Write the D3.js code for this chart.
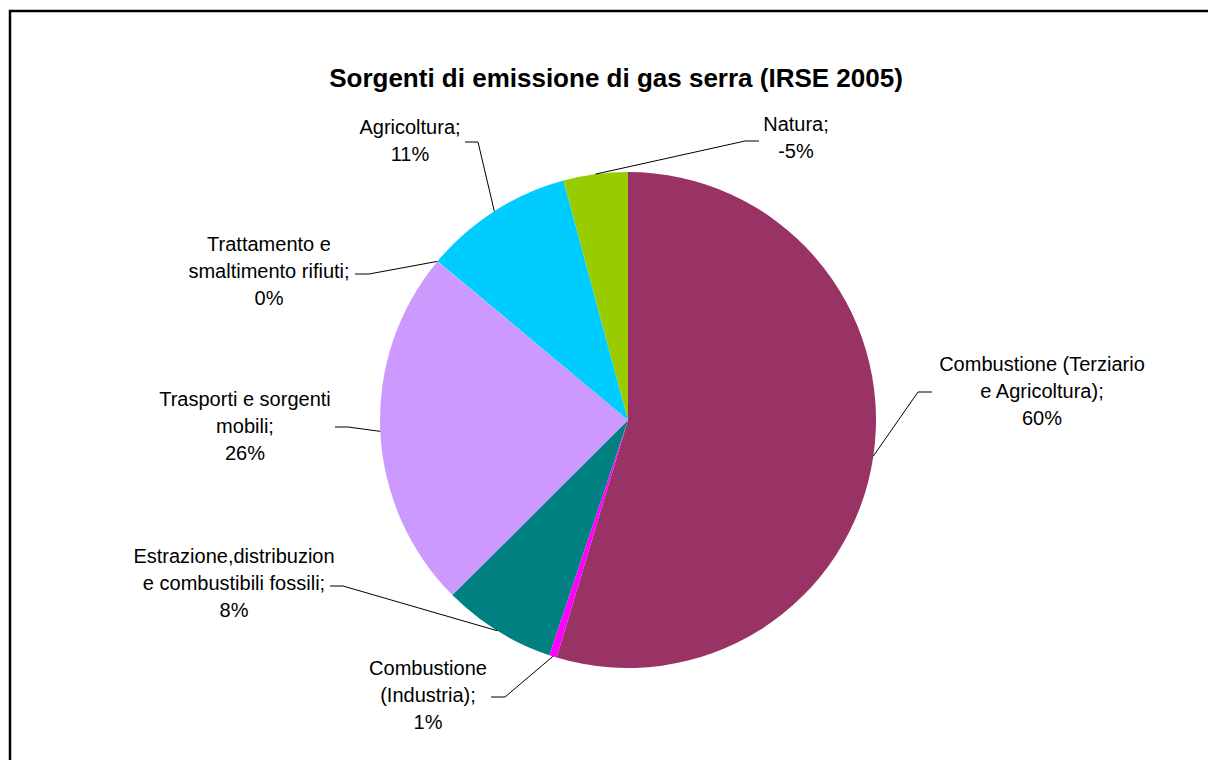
<!DOCTYPE html>
<html>
<head>
<meta charset="utf-8">
<script src="https://cdn.jsdelivr.net/npm/d3@7"></script>
<style>
  body { margin: 0; background: #fff; }
  text { font-family: "Liberation Sans", Arial, sans-serif; fill: #000; }
</style>
</head>
<body>
<div class="chart"></div>
<script>
// Sorgenti di emissione di gas serra (IRSE 2005) - pie with leader lines

// data
var categories = ["Combustione (Terziario e Agricoltura)", "Combustione (Industria)",
  "Estrazione,distribuzione combustibili fossili", "Trasporti e sorgenti mobili",
  "Trattamento e smaltimento rifiuti", "Agricoltura", "Natura"];
var values = [60.0, 0.55, 8.1, 25.8, 0.05, 10.7, -4.6];
var labelLines = [
  ["Combustione (Terziario", "e Agricoltura);"],
  ["Combustione", "(Industria);"],
  ["Estrazione,distribuzion", "e combustibili fossili;"],
  ["Trasporti e sorgenti", "mobili;"],
  ["Trattamento e", "smaltimento rifiuti;"],
  ["Agricoltura;"],
  ["Natura;"]
];
var colors = ["#993366", "#FF00FF", "#008080", "#CC99FF", "#CC99FF", "#00CCFF", "#99CC00"];

// layout of the labels (center x, first baseline, stub start x, stub y, elbow x)
var labelLayout = [
  {x: 1042, y: 371, sx: 932, sy: 392, ex: 918},
  {x: 428, y: 675, sx: 491, sy: 697, ex: 505},
  {x: 234, y: 563, sx: 330, sy: 586, ex: 343},
  {x: 245, y: 406, sx: 335, sy: 427, ex: 348},
  {x: 269, y: 251, sx: 355, sy: 274, ex: 369},
  {x: 410, y: 134, sx: 465, sy: 142, ex: 478},
  {x: 796, y: 131, sx: 759, sy: 141, ex: 745}
];

var svgWidth = 1208, svgHeight = 760;
var cx = 628, cy = 420, radius = 248;
var lineHeight = 27;

var svg = d3.select(".chart").append("svg").attr("width", svgWidth).attr("height", svgHeight);

// outer chart border (runs off the right and bottom edges)
svg.append("rect").attr("x", 10).attr("y", 11).attr("width", 1400).attr("height", 1000)
  .attr("fill", "#fff").attr("stroke", "#000").attr("stroke-width", 2.5);

// title
svg.append("text").attr("x", 616).attr("y", 87).attr("text-anchor", "middle")
  .attr("font-size", "26px").attr("font-weight", "bold")
  .text("Sorgenti di emissione di gas serra (IRSE 2005)");

var signedTotal = d3.sum(values);
var rows = categories.map(function(c, i) {
  return {name: c, value: values[i], pct: Math.round(values[i] / signedTotal * 100), i: i};
});

var pie = d3.pie().sort(null).value(d => Math.abs(d.value));
var arc = d3.arc().innerRadius(0).outerRadius(radius);
var arcs = pie(rows);

var chartGroup = svg.append("g").attr("transform", `translate(${cx}, ${cy})`);
chartGroup.selectAll("path.slice")
  .data(arcs)
  .enter()
  .append("path")
  .attr("class", "slice")
  .attr("d", arc)
  .attr("fill", d => colors[d.data.i]);

// leader lines: from the slice rim to the elbow, then short stub toward the label
var edgePoint = function(d) {
  var a = (d.startAngle + d.endAngle) / 2;
  return [cx + radius * Math.sin(a), cy - radius * Math.cos(a)];
};
svg.selectAll("polyline.leader")
  .data(arcs)
  .enter()
  .append("polyline")
  .attr("class", "leader")
  .attr("points", function(d) {
    var L = labelLayout[d.data.i];
    var p = edgePoint(d);
    return [p, [L.ex, L.sy], [L.sx, L.sy]].map(q => q.join(",")).join(" ");
  })
  .attr("fill", "none").attr("stroke", "#000").attr("stroke-width", 1);

// labels
var labels = svg.selectAll("text.lbl")
  .data(arcs)
  .enter()
  .append("text")
  .attr("class", "lbl")
  .attr("text-anchor", "middle")
  .attr("font-size", "20px");
labels.each(function(d) {
  var L = labelLayout[d.data.i];
  var lines = labelLines[d.data.i].concat([d.data.pct + "%"]);
  var t = d3.select(this);
  lines.forEach(function(s, k) {
    t.append("tspan").attr("x", L.x).attr("y", L.y + k * lineHeight).text(s);
  });
});
</script>
</body>
</html>
